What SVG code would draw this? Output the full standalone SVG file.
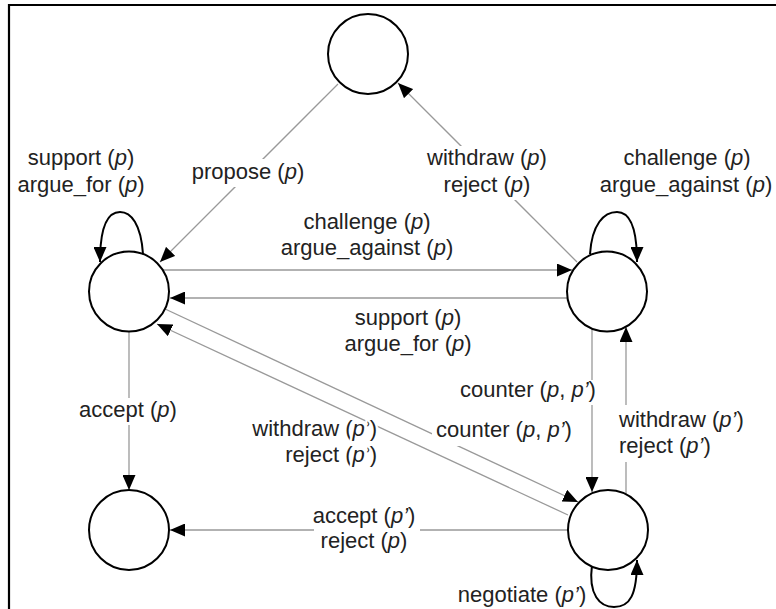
<svg xmlns="http://www.w3.org/2000/svg" width="776" height="609" viewBox="0 0 776 609">
<defs>
<marker id="arrow" markerUnits="userSpaceOnUse" markerWidth="15" markerHeight="13" refX="15" refY="6.5" orient="auto"><path d="M0,0 L15,6.5 L0,13 z" fill="#000"/></marker>
</defs>
<style>
.node{fill:#fff;stroke:#000;stroke-width:2}
.edge{fill:none;stroke:#999;stroke-width:1.3;marker-end:url(#arrow)}
.loop{fill:none;stroke:#000;stroke-width:2;marker-end:url(#arrow)}
.lbl{font-family:"Liberation Sans",Arial,sans-serif;font-size:22px;fill:#222}
.bg{fill:#fff}
.halo{stroke:#fff;stroke-width:5;paint-order:stroke;stroke-linejoin:round}
.i{font-style:italic}
</style>
<rect width="776" height="609" fill="#fff"/>
<path d="M9,609 V5 H776" fill="none" stroke="#000" stroke-width="2.2"/>
<g id="connectors">
<path class="edge" d="M338,84 L160,262"/>
<path class="edge" d="M577,262 L398,83"/>
<path class="edge" d="M163,270 L572,270"/>
<path class="edge" d="M567,298 L170,298"/>
<path class="edge" d="M163,308 L578,502"/>
<path class="edge" d="M568,515 L157,324"/>
<path class="edge" d="M129,331 L129,490"/>
<path class="edge" d="M568,530 L170,530"/>
<path class="edge" d="M592,329 L592,492"/>
<path class="edge" d="M626,494 L626,327"/>
<path class="loop" d="M143,254 C141,224 131,212 120,212 C106,212 100,230 100,262"/>
<path class="loop" d="M590,254 C592,224 604,212 617,212 C631,212 637,230 637,262"/>
<path class="loop" d="M592,565 C588,595 600,607 614,607 C630,607 637,595 637,560"/>
</g>
<g id="labels" class="lbl">
<rect class="bg" x="189" y="159" width="118" height="28"/>
<rect class="bg" x="424" y="146" width="127" height="54"/>
<rect class="bg" x="76" y="398" width="104" height="27"/>
<rect class="bg" x="456" y="380" width="143" height="25"/>
<rect class="bg" x="617" y="405" width="130" height="57"/>
<rect class="bg" x="432" y="420" width="144" height="26"/>
<rect class="bg" x="314" y="505" width="106" height="48"/>
<text text-anchor="middle"><tspan x="81" y="165">support (<tspan class="i">p</tspan>)</tspan><tspan x="81" y="192">argue_for (<tspan class="i">p</tspan>)</tspan></text>
<text text-anchor="middle" x="248" y="179">propose (<tspan class="i">p</tspan>)</text>
<text text-anchor="middle"><tspan x="487" y="165">withdraw (<tspan class="i">p</tspan>)</tspan><tspan x="487" y="192">reject (<tspan class="i">p</tspan>)</tspan></text>
<text text-anchor="middle"><tspan x="687" y="165">challenge (<tspan class="i">p</tspan>)</tspan><tspan x="686" y="192">argue_against (<tspan class="i">p</tspan>)</tspan></text>
<text text-anchor="middle"><tspan x="367" y="229">challenge (<tspan class="i">p</tspan>)</tspan><tspan x="367" y="255">argue_against (<tspan class="i">p</tspan>)</tspan></text>
<text text-anchor="middle"><tspan x="408" y="325">support (<tspan class="i">p</tspan>)</tspan><tspan x="408" y="351">argue_for (<tspan class="i">p</tspan>)</tspan></text>
<text text-anchor="middle" x="128" y="417">accept (<tspan class="i">p</tspan>)</text>
<text class="halo" text-anchor="end"><tspan x="377" y="436">withdraw (<tspan class="i">p’</tspan>)</tspan><tspan x="377" y="462">reject (<tspan class="i">p’</tspan>)</tspan></text>
<text text-anchor="middle" x="528" y="397">counter (<tspan class="i">p</tspan>, <tspan class="i">p’</tspan>)</text>
<text text-anchor="middle" x="504" y="437">counter (<tspan class="i">p</tspan>, <tspan class="i">p’</tspan>)</text>
<text><tspan x="619" y="427">withdraw (<tspan class="i">p’</tspan>)</tspan><tspan x="619" y="453">reject (<tspan class="i">p’</tspan>)</tspan></text>
<text text-anchor="middle"><tspan x="364" y="523">accept (<tspan class="i">p’</tspan>)</tspan><tspan x="364" y="548">reject (<tspan class="i">p</tspan>)</tspan></text>
<text text-anchor="middle" x="522" y="602">negotiate (<tspan class="i">p’</tspan>)</text>
</g>
<g id="node-top"><circle class="node" cx="368" cy="54" r="40"/></g>
<g id="node-left"><circle class="node" cx="129" cy="291.5" r="40"/></g>
<g id="node-right"><circle class="node" cx="607" cy="291.5" r="40"/></g>
<g id="node-bottom-left"><circle class="node" cx="129" cy="530" r="40"/></g>
<g id="node-bottom-right"><circle class="node" cx="608" cy="530" r="40"/></g>
</svg>
